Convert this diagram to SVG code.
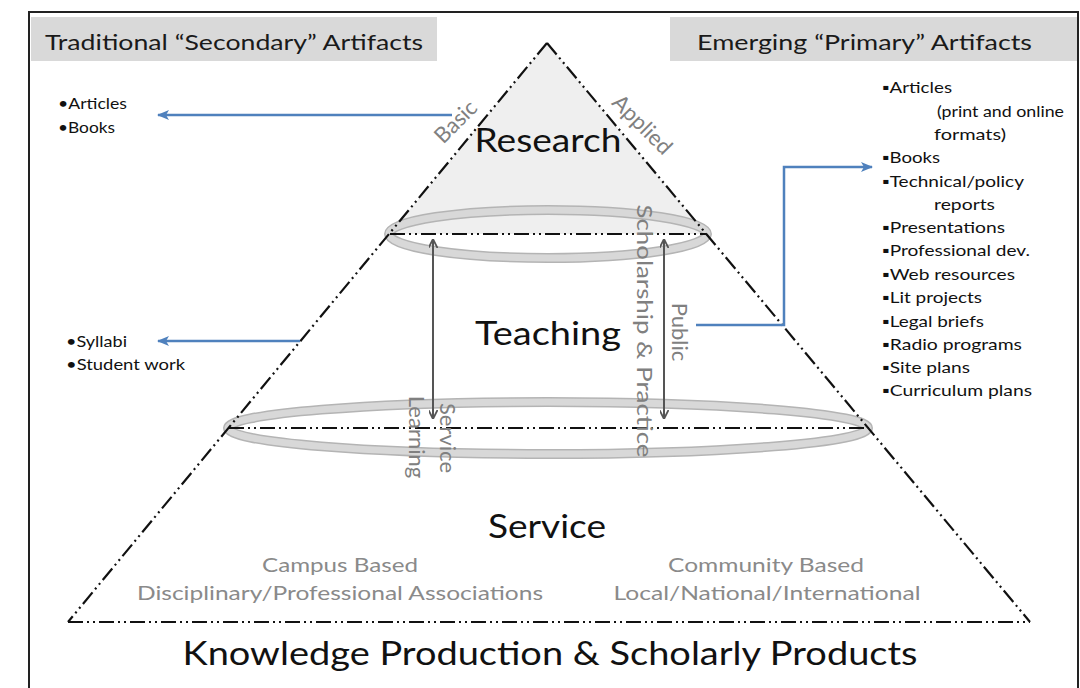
<svg xmlns="http://www.w3.org/2000/svg" width="1080" height="688" viewBox="0 0 1080 688">
<defs>
<style>
.hdr{font-family:Lato,"Liberation Sans",sans-serif;font-size:22px;fill:#1a1a1a}
.lst{font-family:Lato,"Liberation Sans",sans-serif;font-size:15px;fill:#111}
.big{font-family:Lato,"Liberation Sans",sans-serif;font-size:33px;fill:#111}
.sub{font-family:Lato,"Liberation Sans",sans-serif;font-size:19px;fill:#8a8a8a}
.rot{font-family:Lato,"Liberation Sans",sans-serif;font-size:22px;fill:#808080}
.dd{fill:none;stroke:#111;stroke-width:2.2;stroke-dasharray:15 4 2 4 2 4}
.ring1{fill:none;stroke:#b4b4b4;stroke-width:10}
.ring2{fill:none;stroke:#d8d8d8;stroke-width:7}
.blue{fill:none;stroke:#4f81bd;stroke-width:2.5}
.vert{fill:none;stroke:#555;stroke-width:2}
</style>
<marker id="bh" viewBox="0 0 12 10" refX="11" refY="5" markerWidth="12" markerHeight="10" markerUnits="userSpaceOnUse" orient="auto-start-reverse">
<path d="M0,0 L12,5 L0,10 L3,5 z" fill="#4f81bd"/>
</marker>
<marker id="gh" viewBox="0 0 10 10" refX="10" refY="5" markerWidth="9" markerHeight="9" markerUnits="userSpaceOnUse" orient="auto-start-reverse">
<path d="M0,0 L10,5 L0,10" fill="none" stroke="#555" stroke-width="2"/>
</marker>
</defs>
<rect x="0" y="0" width="1080" height="688" fill="#fff"/>
<rect x="29" y="12" width="1049" height="690" fill="none" stroke="#222" stroke-width="2"/>

<g id="header-left">
<rect x="31" y="17" width="406" height="44" fill="#d9d9d9"/>
<text class="hdr" x="45" y="50" textLength="378" lengthAdjust="spacingAndGlyphs">Traditional “Secondary” Artifacts</text>
</g>
<g id="header-right">
<rect x="670" y="17" width="407" height="44" fill="#d9d9d9"/>
<text class="hdr" x="697" y="50" textLength="335" lengthAdjust="spacingAndGlyphs">Emerging “Primary” Artifacts</text>
</g>

<g id="pyramid">
<polygon points="547,43 390,234 706,234" fill="#efefef"/>
<ellipse class="ring1" cx="548" cy="234" rx="159" ry="24"/>
<ellipse class="ring2" cx="548" cy="234" rx="159" ry="24"/>
<ellipse class="ring1" cx="548" cy="428" rx="320" ry="26"/>
<ellipse class="ring2" cx="548" cy="428" rx="320" ry="26"/>
<path class="dd" d="M547,43 L68,622"/>
<path class="dd" d="M547,43 L1030,622"/>
<path class="dd" d="M68,622 L1030,622"/>
<path class="dd" d="M390,234 L706,234"/>
<path class="dd" d="M229,428 L869,428"/>
</g>

<g id="research">
<text class="big" x="548" y="152" text-anchor="middle" textLength="147" lengthAdjust="spacingAndGlyphs">Research</text>
<text class="rot" font-size="30" transform="translate(461,127) rotate(-45)" text-anchor="middle">Basic</text>
<text class="rot" font-size="30" transform="translate(637,130) rotate(45)" text-anchor="middle">Applied</text>
</g>
<g id="teaching">
<text class="big" x="548" y="345" text-anchor="middle" textLength="146" lengthAdjust="spacingAndGlyphs">Teaching</text>
</g>
<g id="service">
<text class="big" font-size="31" x="547" y="538" text-anchor="middle" textLength="118" lengthAdjust="spacingAndGlyphs">Service</text>
<text class="sub" x="340" y="572" text-anchor="middle" textLength="156" lengthAdjust="spacingAndGlyphs">Campus Based</text>
<text class="sub" x="340" y="600" text-anchor="middle" textLength="406" lengthAdjust="spacingAndGlyphs">Disciplinary/Professional Associations</text>
<text class="sub" x="766" y="572" text-anchor="middle" textLength="196" lengthAdjust="spacingAndGlyphs">Community Based</text>
<text class="sub" x="767" y="600" text-anchor="middle" textLength="307" lengthAdjust="spacingAndGlyphs">Local/National/International</text>
</g>
<g id="footer">
<text class="big" x="550" y="665" text-anchor="middle" textLength="735" lengthAdjust="spacingAndGlyphs">Knowledge Production &amp; Scholarly Products</text>
</g>

<g id="service-learning">
<text class="rot" transform="translate(440,438) rotate(90)" text-anchor="middle">Service</text>
<text class="rot" transform="translate(409,437) rotate(90)" text-anchor="middle">Learning</text>
</g>
<g id="public-scholarship">
<text class="rot" transform="translate(672,332) rotate(90)" text-anchor="middle">Public</text>
<text class="rot" transform="translate(637,331) rotate(90)" text-anchor="middle" textLength="253" lengthAdjust="spacingAndGlyphs">Scholarship &amp; Practice</text>
</g>

<g id="list-secondary-research">
<text class="lst" x="58" y="109" textLength="69" lengthAdjust="spacingAndGlyphs">•Articles</text>
<text class="lst" x="58" y="133" textLength="57" lengthAdjust="spacingAndGlyphs">•Books</text>
</g>
<g id="list-secondary-teaching">
<text class="lst" x="66" y="347" textLength="61" lengthAdjust="spacingAndGlyphs">•Syllabi</text>
<text class="lst" x="66" y="370" textLength="119" lengthAdjust="spacingAndGlyphs">•Student work</text>
</g>
<g id="list-primary">
<text class="lst" x="882" y="93" textLength="70" lengthAdjust="spacingAndGlyphs">▪Articles</text>
<text class="lst" x="937" y="117" textLength="127" lengthAdjust="spacingAndGlyphs">(print and online</text>
<text class="lst" x="934" y="140" textLength="72" lengthAdjust="spacingAndGlyphs">formats)</text>
<text class="lst" x="882" y="163" textLength="58" lengthAdjust="spacingAndGlyphs">▪Books</text>
<text class="lst" x="882" y="187" textLength="142" lengthAdjust="spacingAndGlyphs">▪Technical/policy</text>
<text class="lst" x="934" y="210" textLength="61" lengthAdjust="spacingAndGlyphs">reports</text>
<text class="lst" x="882" y="233" textLength="123" lengthAdjust="spacingAndGlyphs">▪Presentations</text>
<text class="lst" x="882" y="256" textLength="148" lengthAdjust="spacingAndGlyphs">▪Professional dev.</text>
<text class="lst" x="882" y="280" textLength="133" lengthAdjust="spacingAndGlyphs">▪Web resources</text>
<text class="lst" x="882" y="303" textLength="100" lengthAdjust="spacingAndGlyphs">▪Lit projects</text>
<text class="lst" x="882" y="327" textLength="102" lengthAdjust="spacingAndGlyphs">▪Legal briefs</text>
<text class="lst" x="882" y="350" textLength="140" lengthAdjust="spacingAndGlyphs">▪Radio programs</text>
<text class="lst" x="882" y="373" textLength="88" lengthAdjust="spacingAndGlyphs">▪Site plans</text>
<text class="lst" x="882" y="396" textLength="150" lengthAdjust="spacingAndGlyphs">▪Curriculum plans</text>
</g>

<g id="connectors">
<path class="blue" d="M452,115 L158,115" marker-end="url(#bh)"/>
<path class="blue" d="M300,341 L158,341" marker-end="url(#bh)"/>
<path class="blue" d="M696,325 L784,325 L784,167 L872,167" marker-end="url(#bh)"/>
<path class="vert" d="M433,239 L433,419" marker-start="url(#gh)" marker-end="url(#gh)"/>
<path class="vert" d="M664,239 L664,419" marker-start="url(#gh)" marker-end="url(#gh)"/>
</g>
</svg>
